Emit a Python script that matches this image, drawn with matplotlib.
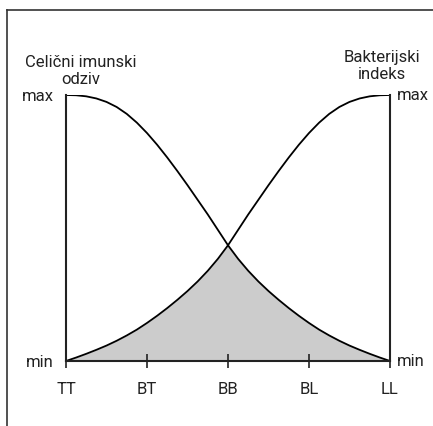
import matplotlib
matplotlib.use('Agg')
import matplotlib.pyplot as plt
from matplotlib.lines import Line2D
from matplotlib.transforms import offset_copy
import numpy as np

# polozaji na x osi (TT .. LL) i ocitane vrijednosti krivulja (0 = min, 1 = max)
polozaj = [0, 0.125, 0.25, 0.375, 0.5, 0.625, 0.75, 0.875, 1.0, 1.125, 1.25, 1.375, 1.5, 1.625, 1.75, 1.875,
           2.0, 2.125, 2.25, 2.375, 2.5, 2.625, 2.75, 2.875, 3.0, 3.125, 3.25, 3.375, 3.5, 3.625, 3.75, 3.875, 4.0]
imunski_odziv = [1.0, 0.999, 0.995, 0.987, 0.974, 0.955, 0.929, 0.896, 0.857, 0.813, 0.765, 0.714, 0.661,
                 0.606, 0.551, 0.493, 0.435, 0.384, 0.339, 0.299, 0.263, 0.23, 0.199, 0.17, 0.143, 0.118,
                 0.096, 0.076, 0.058, 0.042, 0.027, 0.013, 0.0]
bakterijski_indeks = [0.0, 0.013, 0.027, 0.042, 0.058, 0.076, 0.096, 0.118, 0.143, 0.17, 0.199, 0.23, 0.263,
                      0.299, 0.339, 0.384, 0.435, 0.493, 0.551, 0.606, 0.661, 0.714, 0.765, 0.813, 0.857,
                      0.896, 0.929, 0.955, 0.974, 0.987, 0.995, 0.999, 1.0]

oznake_x = ['TT', 'BT', 'BB', 'BL', 'LL']
oznake_y = ['min', 'max']

plt.rcParams['font.family'] = ['Roboto', 'DejaVu Sans']
plt.rcParams['font.size'] = 12
tamna = '#222222'

fig = plt.figure(figsize=(4.33, 4.26), dpi=100)
ax = fig.add_axes([66 / 433, 65 / 426, 324 / 433, 266 / 426])

# osjencano podrucje ispod obje krivulje
donja = np.minimum(imunski_odziv, bakterijski_indeks)
ax.fill_between(polozaj, 0, donja, color='#cccccc', linewidth=0)

ax.plot(polozaj, imunski_odziv, color='black', linewidth=1.3)
ax.plot(polozaj, bakterijski_indeks, color='black', linewidth=1.3)

ax.set_xlim(0, 4)
ax.set_ylim(0, 1)

ax.spines['top'].set_visible(False)
for s in ['left', 'right', 'bottom']:
    ax.spines[s].set_linewidth(1.5)
    ax.spines[s].set_color(tamna)
    ax.spines[s].set_zorder(5)

ax.set_xticks(range(5))
ax.set_xticklabels(oznake_x)
ax.tick_params(axis='x', direction='inout', length=10, width=1.2, color=tamna, pad=10, labelcolor=tamna)

# min / max s lijeve strane kao oznake osi
ax.set_yticks([0, 1])
ax.set_yticklabels(oznake_y)
ax.tick_params(axis='y', length=0, pad=9, labelcolor=tamna)

# min / max s desne strane
desno = offset_copy(ax.get_yaxis_transform(), fig=fig, x=7, y=0, units='dots')
for v, t in zip([0, 1], oznake_y):
    ax.text(1, v, t, transform=desno, ha='left', va='center', color=tamna)

fig.text(81 / 433, (426 - 84) / 426, 'Celični imunski\nodziv', ha='center', va='baseline',
         multialignment='center', linespacing=1.15, color=tamna)
fig.text(382 / 433, (426 - 79) / 426, 'Bakterijski\nindeks', ha='center', va='baseline',
         multialignment='center', linespacing=1.15, color=tamna)

# okvir oko slike (samo gornji i lijevi rub su vidljivi)
fig.add_artist(Line2D([7 / 433, 7 / 433], [0, (426 - 10) / 426], color='#333333', linewidth=1.2))
fig.add_artist(Line2D([7 / 433, 1], [(426 - 10) / 426, (426 - 10) / 426], color='#333333', linewidth=1.2))

fig.savefig('out.png', dpi=100)
